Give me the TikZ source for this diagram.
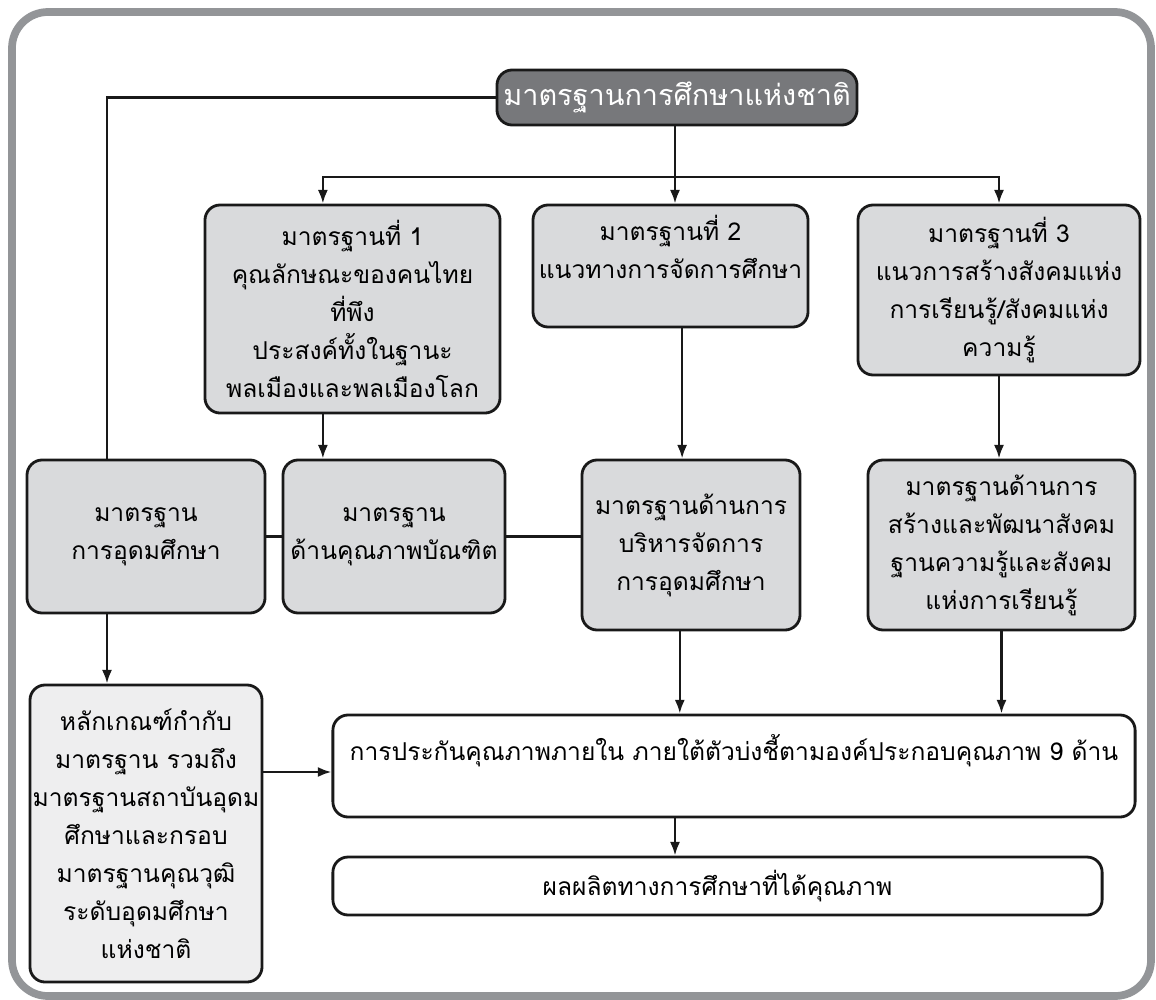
\documentclass[tikz,border=0pt]{standalone}
\usepackage{fontspec}
\newfontfamily\thaifont[Script=Thai]{Loma}
\usepackage{tikz}
\usetikzlibrary{arrows.meta, positioning, calc}
\definecolor{framegray}{HTML}{939598}
\definecolor{boxgray}{HTML}{D9DADC}
\definecolor{paleGray}{HTML}{EEEEEF}
\definecolor{darkGray}{HTML}{77787B}

\begin{document}
\begin{tikzpicture}[x=0.025cm, y=-0.025cm, stdbox/.style={draw=black!90,
      line width=2pt, rounded corners=0.38cm, fill=boxgray, align=center,
      inner sep=0pt, font=\thaifont\fontsize{17.5}{27}\selectfont},
    topbox/.style={stdbox, fill=darkGray, text=white,
      font=\thaifont\fontsize{20.5}{26}\selectfont}, link/.style={line
      width=1.7pt, black!90}, arr/.style={link, -{Latex[length=3.4mm,
      width=2.5mm]}}, ]

    \useasboundingbox (0,0) rectangle (1156,999);

    % Outer frame
    \draw[framegray, line width=5.5pt, rounded corners=0.9cm] (12,12)
    rectangle (1151,996);

    % National standard
    \node[topbox, minimum width=9cm, minimum height=1.375cm] (nat) at
    (677,97.5) {มาตรฐานการศึกษาแห่งชาติ};

    % Standards 1-3
    \node[stdbox, minimum width=7.375cm, minimum height=5.2cm] (s1) at
    (352.5,309) {มาตรฐานที่ 1\\คุณลักษณะของคนไทย\\ที่พึง\\ประสงค์ทั้งในฐานะ\\พลเมืองและพลเมืองโลก};
    \node[stdbox, minimum width=6.875cm, minimum height=3.05cm] (s2) at
    (670.5,266) {มาตรฐานที่ 2\\แนวทางการจัดการศึกษา\\\mbox{}};
    \node[stdbox, minimum width=7.05cm, minimum height=4.25cm] (s3) at
    (999,290) {มาตรฐานที่ 3\\แนวการสร้างสังคมแห่ง\\การเรียนรู้/สังคมแห่ง\\ความรู้};

    % Higher education standards
    \node[stdbox, minimum width=5.95cm, minimum height=3.825cm] (hed) at
    (146,536.5) {มาตรฐาน\\การอุดมศึกษา};
    \node[stdbox, minimum width=5.55cm, minimum height=3.825cm] (grad) at
    (394,536.5) {มาตรฐาน\\ด้านคุณภาพบัณฑิต};
    \node[stdbox, minimum width=5.45cm, minimum height=4.25cm] (mgmt) at
    (691,545) {มาตรฐานด้านการ\\บริหารจัดการ\\การอุดมศึกษา};
    \node[stdbox, minimum width=6.675cm, minimum height=4.25cm] (soc) at
    (1001.5,545) {มาตรฐานด้านการ\\สร้างและพัฒนาสังคม\\ฐานความรู้และสังคม\\แห่งการเรียนรู้};

    % Criteria, QA and output
    \node[stdbox, fill=paleGray, minimum width=5.8cm, minimum height=7.425cm]
    (crit) at (146,833.5) {หลักเกณฑ์กำกับ\\มาตรฐาน รวมถึง\\มาตรฐานสถาบันอุดม\\ศึกษาและกรอบ\\มาตรฐานคุณวุฒิ\\ระดับอุดมศึกษา\\แห่งชาติ};
    \node[stdbox, fill=white, minimum width=20.05cm, minimum height=2.55cm]
    (qa) at (734,766) {การประกันคุณภาพภายใน ภายใต้ตัวบ่งชี้ตามองค์ประกอบคุณภาพ 9 ด้าน\\\mbox{}};
    \node[stdbox, fill=white, minimum width=19.225cm, minimum height=1.45cm]
    (out) at (717.5,886) {ผลผลิตทางการศึกษาที่ได้คุณภาพ};

    % Connectors
    \coordinate (lx) at (107,0); \coordinate (bus) at (675,177);
    \draw[link] (nat.west) -| (hed.north -| lx);
    \draw[link] (nat.south -| bus) -- (bus);
    \draw[arr] (bus) -| ([xshift=-0.74cm]s1.north);
    \draw[arr] (bus) -- (bus |- s2.north);
    \draw[arr] (bus) -| (s3.north);

    \draw[arr] ([xshift=-0.74cm]s1.south) -- ([xshift=-0.74cm]s1.south |- grad.north);
    \draw[arr] ([xshift=0.29cm]s2.south) -- ([xshift=0.29cm]s2.south |- mgmt.north);
    \draw[arr] (s3.south) -- (s3.south |- soc.north);

    \draw[link] (hed.east) -- (grad.west);
    \draw[link] (grad.east) -- (grad.east -| mgmt.west);

    \draw[arr] (hed.south -| lx) -- (crit.north -| lx);
    \draw[arr] ([yshift=-0.15cm]crit.east |- qa.west) -- ([yshift=-0.15cm]qa.west);
    \draw[arr] ([xshift=-0.28cm]mgmt.south) -- ([xshift=-0.28cm]mgmt.south |- qa.north);
    \draw[arr] (soc.south) -- (soc.south |- qa.north);
    \draw[arr] (qa.south -| bus) -- (out.north -| bus);

\end{tikzpicture}
\end{document}
